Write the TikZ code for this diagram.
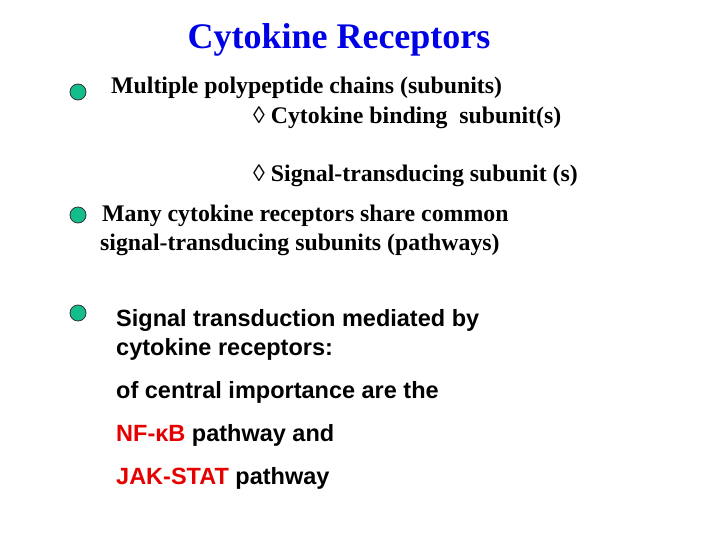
\documentclass[tikz,border=0pt]{standalone}
\usepackage{fontspec}
\setmainfont{Liberation Serif}
\newfontfamily\arialf{Liberation Sans}
\definecolor{ttl}{RGB}{0,0,230}
\definecolor{bul}{RGB}{20,190,140}
\definecolor{rd}{RGB}{230,0,0}
\begin{document}
\begin{tikzpicture}[x=1pt,y=-1pt,
  ser/.style={anchor=west,inner sep=0,font=\fontsize{23.8}{26}\selectfont\bfseries},
  san/.style={anchor=west,inner sep=0,font=\arialf\fontsize{23.5}{26}\selectfont\bfseries},
  bullet/.style={circle,draw=black!80,fill=bul,line width=0.8pt,minimum size=16pt,inner sep=0}]
\useasboundingbox (0,0) rectangle (720,540);
\node[inner sep=0,font=\fontsize{36}{38}\selectfont\bfseries,text=ttl] (title) at (339,40) {Cytokine Receptors};
\node[bullet] (b1) at (78,92) {};
\node[bullet] (b2) at (78,215) {};
\node[bullet] (b3) at (78,313) {};
\node[ser] (t1) at (111,88) {Multiple polypeptide chains (subunits)};
\node[ser] (t2) at (253,118) {◊ Cytokine binding\ \ subunit(s)};
\node[ser] (t3) at (253,176) {◊ Signal-transducing subunit (s)};
\node[ser] (t4) at (102,216) {Many cytokine receptors share common};
\node[ser] (t5) at (100,245) {signal-transducing subunits (pathways)};
\node[san] (s1) at (116,320) {Signal transduction mediated by};
\node[san] (s2) at (116,349) {cytokine receptors:};
\node[san] (s3) at (116,392) {of central importance are the};
\node[san] (s4) at (116,435) {\textcolor{rd}{NF-κB} pathway and};
\node[san] (s5) at (116,478) {\textcolor{rd}{JAK-STAT} pathway};
\end{tikzpicture}
\end{document}
